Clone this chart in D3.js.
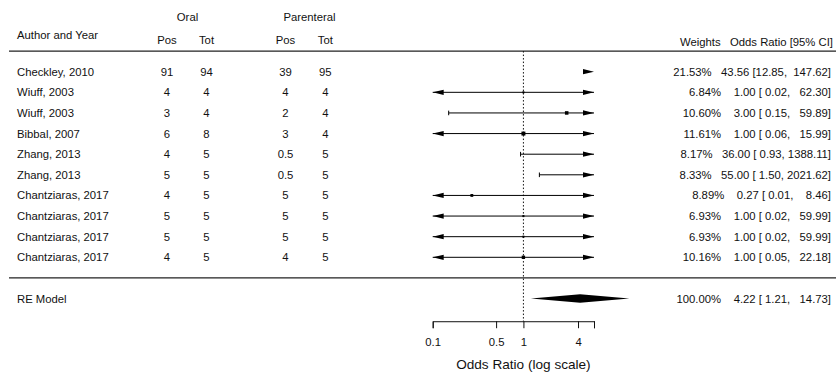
<!DOCTYPE html>
<html>
<head>
<meta charset="utf-8">
<script src="https://cdn.jsdelivr.net/npm/d3@7"></script>
<style>
  html, body { margin: 0; padding: 0; background: #fff; }
  svg text { font-family: "Liberation Sans", Arial, sans-serif; fill: #111; }
</style>
</head>
<body>
<svg id="chart" width="836" height="374"></svg>
<script>
// ---------------- data ----------------
const authors = ["Checkley, 2010","Wiuff, 2003","Wiuff, 2003","Bibbal, 2007","Zhang, 2013","Zhang, 2013",
                 "Chantziaras, 2017","Chantziaras, 2017","Chantziaras, 2017","Chantziaras, 2017"];
const oralPos = [91, 4, 3, 6, 4, 5, 4, 5, 5, 4];
const oralTot = [94, 4, 4, 8, 5, 5, 5, 5, 5, 5];
const parPos  = [39, 4, 2, 3, 0.5, 0.5, 5, 5, 5, 4];
const parTot  = [95, 4, 4, 4, 5, 5, 5, 5, 5, 5];
const weights = [21.53, 6.84, 10.60, 11.61, 8.17, 8.33, 8.89, 6.93, 6.93, 10.16];
const oddsRatio = [43.56, 1.00, 3.00, 1.00, 36.00, 55.00, 0.27, 1.00, 1.00, 1.00];
const ciLower = [12.85, 0.02, 0.15, 0.06, 0.93, 1.50, 0.01, 0.02, 0.02, 0.05];
const ciUpper = [147.62, 62.30, 59.89, 15.99, 1388.11, 2021.62, 8.46, 59.99, 59.99, 22.18];
const reLabel = "RE Model";
const reWeight = 100.00;
const reEstimate = 4.22;
const reLower = 1.21;
const reUpper = 14.73;
const axisTicks = [0.1, 0.5, 1, 4, 6];
const axisTickLabels = ["0.1", "0.5", "1", "4", ""];
const axisLimits = [0.1, 6];
const axisTitle = "Odds Ratio (log scale)";

// ---------------- layout ----------------
const svg = d3.select("#chart");
const FS = 11.3;
const k = authors.length;
const x = d3.scaleLog().domain(axisLimits).range([432.7, 594]);
const y = d3.scaleLinear().domain([k, 1]).range([71.7, 257.3]);
const rows = d3.range(k).map(i => k - i);

// column x-positions
const colX = { author: 17, oPos: 167, oTot: 206.5, pPos: 285.5, pTot: 325.3, right: 831 };

// header
const hdr = svg.append("g").attr("font-size", FS);
function txt(g, xx, yy, s, anchor, size) {
  return g.append("text").attr("x", xx).attr("y", yy).attr("text-anchor", anchor || "middle")
    .attr("dominant-baseline", "central").attr("font-size", size || FS).text(s);
}
txt(hdr, 187.5, y(12.63), "Oral");
txt(hdr, 309.5, y(12.63), "Parenteral");
txt(hdr, colX.author, y(11.8), "Author and Year", "start");
txt(hdr, colX.oPos, y(11.56), "Pos");
txt(hdr, colX.oTot, y(11.56), "Tot");
txt(hdr, colX.pPos, y(11.56), "Pos");
txt(hdr, colX.pTot, y(11.56), "Tot");
txt(hdr, 833, y(11.45), "Weights   Odds Ratio [95% CI]", "end").style("white-space", "pre");

// horizontal rules
[k + 1, 0].forEach(v => {
  svg.append("line").attr("x1", 9).attr("x2", 836).attr("y1", y(v)).attr("y2", y(v))
    .attr("stroke", "#222").attr("stroke-width", 1.3);
});

// reference line at OR = 1
svg.append("line").attr("x1", x(1)).attr("x2", x(1)).attr("y1", y(k + 1)).attr("y2", y(-2.1))
  .attr("stroke", "#111").attr("stroke-width", 1).attr("stroke-dasharray", "1.5,2");

// study rows: table text
const tbl = svg.append("g");
rows.forEach((r, i) => {
  txt(tbl, colX.author, y(r), authors[i], "start");
  txt(tbl, colX.oPos, y(r), String(oralPos[i]));
  txt(tbl, colX.oTot, y(r), String(oralTot[i]));
  txt(tbl, colX.pPos, y(r), String(parPos[i]));
  txt(tbl, colX.pTot, y(r), String(parTot[i]));
});
txt(tbl, colX.author, y(-1), reLabel, "start");

// annotations (R-style fixed formatting, padded with spaces)
const f2 = v => v.toFixed(2);
const allEst = oddsRatio.map(f2), allLb = ciLower.map(f2), allUb = ciUpper.map(f2), allW = weights.map(f2);
const wEst = d3.max(allEst, s => s.length), wLb = d3.max(allLb, s => s.length), wUb = d3.max(allUb, s => s.length);
const wW = Math.max(d3.max(allW, s => s.length), f2(reWeight).length);
function annot(w, e, l, u) {
  return f2(w).padStart(wW) + "%   " + f2(e).padStart(wEst) + " [" + f2(l).padStart(wLb) + ", " + f2(u).padStart(wUb) + "]";
}
rows.forEach((r, i) => {
  txt(tbl, colX.right, y(r), annot(weights[i], oddsRatio[i], ciLower[i], ciUpper[i]), "end").style("white-space", "pre");
});
txt(tbl, colX.right, y(-1), annot(reWeight, reEstimate, reLower, reUpper), "end").style("white-space", "pre");

// forest marks
const g = svg.append("g");
const [amin, amax] = axisLimits;
const sz = d3.scaleLinear().domain(d3.extent(weights)).range([2, 8]);
const arrowLen = 11, arrowH = 2.6, tickH = 2.3;
function rightArrow(yy) {
  g.append("path").attr("d", `M${x(amax)},${yy} L${x(amax) - arrowLen},${yy - arrowH} L${x(amax) - arrowLen},${yy + arrowH} Z`).attr("fill", "#000");
}
function leftArrow(yy) {
  g.append("path").attr("d", `M${x(amin)},${yy} L${x(amin) + arrowLen},${yy - arrowH} L${x(amin) + arrowLen},${yy + arrowH} Z`).attr("fill", "#000");
}
rows.forEach((r, i) => {
  const yy = y(r);
  const lo = ciLower[i], hi = ciUpper[i];
  if (lo > amax) { rightArrow(yy); return; }
  if (hi < amin) { leftArrow(yy); return; }
  const x1 = x(Math.max(lo, amin)), x2 = x(Math.min(hi, amax));
  g.append("line").attr("x1", x1).attr("x2", x2).attr("y1", yy).attr("y2", yy).attr("stroke", "#000").attr("stroke-width", 1);
  if (lo < amin) leftArrow(yy);
  else g.append("line").attr("x1", x1).attr("x2", x1).attr("y1", yy - tickH).attr("y2", yy + tickH).attr("stroke", "#000");
  if (hi > amax) rightArrow(yy);
  else g.append("line").attr("x1", x2).attr("x2", x2).attr("y1", yy - tickH).attr("y2", yy + tickH).attr("stroke", "#000");
  const est = oddsRatio[i];
  if (est >= amin && est <= amax) {
    const s = sz(weights[i]);
    g.append("rect").attr("x", x(est) - s / 2).attr("y", yy - s / 2).attr("width", s).attr("height", s).attr("fill", "#000");
  }
});

// summary diamond
const yd = y(-1), dh = 4.3;
g.append("path")
  .attr("d", `M${x(reLower)},${yd} L${x(reEstimate)},${yd - dh} L${x(reUpper)},${yd} L${x(reEstimate)},${yd + dh} Z`)
  .attr("fill", "#000");

// x axis
const axisY = y(-2.1);
const axis = d3.axisBottom(x).tickValues(axisTicks).tickFormat((d, i) => axisTickLabels[i]).tickSizeOuter(0).tickSize(7).tickPadding(10);
const ag = svg.append("g").attr("transform", `translate(0,${axisY})`).call(axis);
ag.select(".domain").attr("stroke", "#111").attr("stroke-width", 1);
ag.selectAll(".tick line").attr("stroke", "#111");
ag.selectAll(".tick text").attr("font-size", FS).attr("font-family", "Liberation Sans, Arial, sans-serif").attr("fill", "#111");
txt(svg, x(1), 364.5, axisTitle, "middle", 13.6);
</script>
</body>
</html>
